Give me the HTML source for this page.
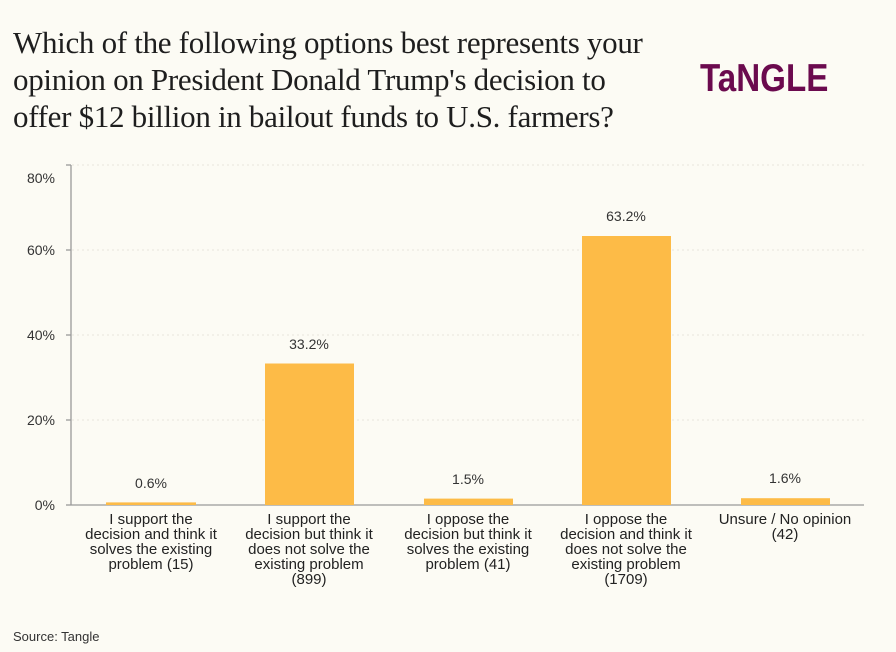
<!DOCTYPE html>
<html><head><meta charset="utf-8"><style>
body{margin:0;width:896px;height:652px;background:#fcfbf4;font-family:"Liberation Sans",sans-serif;position:relative;overflow:hidden}
.t{position:absolute;left:13px;top:24px;font-family:"Liberation Serif",serif;font-size:31px;line-height:37px;color:#1e1e1e;letter-spacing:-0.3px}
.logo{position:absolute;left:700px;top:58px;font-family:"Liberation Sans",sans-serif;font-weight:bold;font-size:39px;line-height:42px;color:#6b0a4e;letter-spacing:0px;transform:scaleX(0.85);transform-origin:left}
.src{position:absolute;left:13px;top:629px;font-size:13px;color:#333}
</style></head><body>
<div class="t">Which of the following options best represents your<br>opinion on President Donald Trump's decision to<br>offer $12 billion in bailout funds to U.S. farmers?</div>
<div class="logo">TaNGLE</div>
<svg width="896" height="652" style="position:absolute;left:0;top:0" font-family="Liberation Sans, sans-serif">
<g stroke="#e8e6dc" stroke-dasharray="2,3">
<line x1="72" x2="864" y1="165" y2="165"/><line x1="72" x2="864" y1="250" y2="250"/><line x1="72" x2="864" y1="335" y2="335"/><line x1="72" x2="864" y1="420" y2="420"/>
</g>
<g stroke="#999" stroke-width="1.3">
<line x1="71" y1="165" x2="71" y2="505"/><line x1="71" y1="505" x2="864" y2="505"/>
<line x1="66" x2="71" y1="165" y2="165"/><line x1="66" x2="71" y1="250" y2="250"/><line x1="66" x2="71" y1="335" y2="335"/><line x1="66" x2="71" y1="420" y2="420"/><line x1="66" x2="71" y1="505" y2="505"/>
</g>
<g font-size="14" fill="#333" text-anchor="end">
<text x="55" y="183">80%</text><text x="55" y="255">60%</text><text x="55" y="340">40%</text><text x="55" y="425">20%</text><text x="55" y="510">0%</text>
</g>
<g fill="#fdbb47">
<rect x="106" y="502.4" width="90" height="2.6"/>
<rect x="265" y="363.5" width="89" height="141.5"/>
<rect x="424" y="498.6" width="89" height="6.4"/>
<rect x="582" y="236" width="89" height="269"/>
<rect x="741" y="498.2" width="89" height="6.8"/>
</g>
<g font-size="14" fill="#333" text-anchor="middle">
<text x="151" y="488">0.6%</text><text x="309" y="349">33.2%</text><text x="468" y="484">1.5%</text><text x="626" y="221">63.2%</text><text x="785" y="483">1.6%</text>
</g>
<g font-size="15" fill="#222" text-anchor="middle">
<text x="151" y="524">I support the</text><text x="151" y="539">decision and think it</text><text x="151" y="554">solves the existing</text><text x="151" y="569">problem (15)</text>
<text x="309" y="524">I support the</text><text x="309" y="539">decision but think it</text><text x="309" y="554">does not solve the</text><text x="309" y="569">existing problem</text><text x="309" y="584">(899)</text>
<text x="468" y="524">I oppose the</text><text x="468" y="539">decision but think it</text><text x="468" y="554">solves the existing</text><text x="468" y="569">problem (41)</text>
<text x="626" y="524">I oppose the</text><text x="626" y="539">decision and think it</text><text x="626" y="554">does not solve the</text><text x="626" y="569">existing problem</text><text x="626" y="584">(1709)</text>
<text x="785" y="524">Unsure / No opinion</text><text x="785" y="539">(42)</text>
</g>
</svg>
<div class="src">Source: Tangle</div>
</body></html>
